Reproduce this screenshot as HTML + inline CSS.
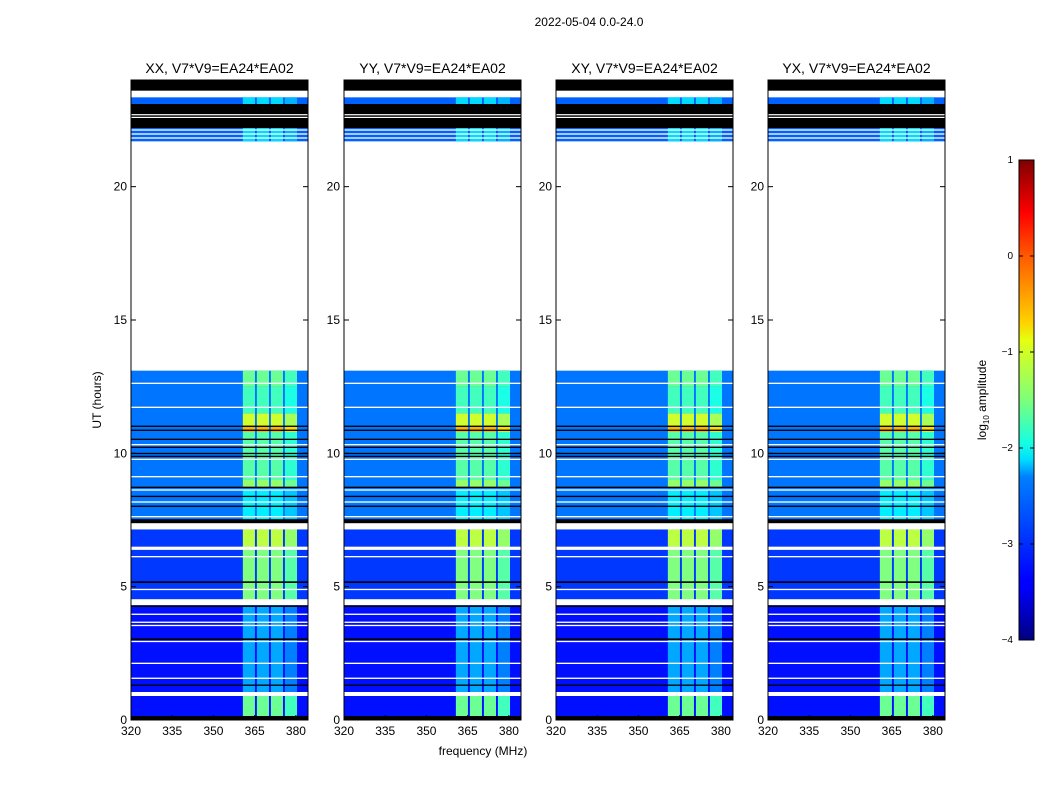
<!DOCTYPE html>
<html><head><meta charset="utf-8"><style>
html,body{margin:0;padding:0;background:#fff;}
svg text{font-family:"Liberation Sans",sans-serif;}
</style></head><body>
<svg id="fig" width="1050" height="800" xmlns="http://www.w3.org/2000/svg">
<defs>
<linearGradient id="jet" x1="0" y1="1" x2="0" y2="0">
<stop offset="0" stop-color="#00007f"/><stop offset="0.11" stop-color="#0000ff"/>
<stop offset="0.125" stop-color="#0000ff"/><stop offset="0.34" stop-color="#0080ff"/>
<stop offset="0.375" stop-color="#00dcff"/><stop offset="0.41" stop-color="#14ffe2"/>
<stop offset="0.5" stop-color="#7dff7a"/><stop offset="0.625" stop-color="#e6ff10"/>
<stop offset="0.66" stop-color="#ffd300"/><stop offset="0.8" stop-color="#ff5a00"/>
<stop offset="0.89" stop-color="#ff0000"/><stop offset="1" stop-color="#7f0000"/>
</linearGradient>
</defs>
<text x="589" y="26" font-size="12" text-anchor="middle">2022-05-04 0.0-24.0</text>
<g id="panels"></g>
<text x="483" y="755" font-size="12" text-anchor="middle">frequency (MHz)</text>
<text transform="translate(101,400) rotate(-90)" font-size="12" text-anchor="middle">UT (hours)</text>
<g>
<rect x="1019" y="160" width="15" height="480" fill="url(#jet)" stroke="#000" stroke-width="1"/>
<g id="cbticks"></g>
<text transform="translate(986,400) rotate(-90)" font-size="12" text-anchor="middle">log<tspan font-size="8" dy="3">10</tspan><tspan dy="-3"> amplitude</tspan></text>
</g>
</svg>
<script>
const panelTitles = ["XX, V7*V9=EA24*EA02","YY, V7*V9=EA24*EA02","XY, V7*V9=EA24*EA02","YX, V7*V9=EA24*EA02"];
const panelLefts = [131,344,556,768];
const xTicks = [320,335,350,365,380];
const yTicks = [0,5,10,15,20];
const cbTicks = [1,0,-1,-2,-3,-4];
// time blocks: [start h, end h, background log amplitude]
const blockStart = [0.15, 4.3, 7.4, 21.7, 23.1];
const blockEnd   = [4.3, 7.15, 13.1, 22.2, 23.35];
const blockBg    = [-3.3, -3.1, -2.8, -2.9, -2.9];
// RFI channels (MHz)
const rfiLo = [360.7, 365.8, 370.9, 376.0];
const rfiHi = [365.1, 370.2, 375.3, 380.4];
// RFI intensity segments
const rfiStart = [0.15, 0.9, 4.5, 6.5, 7.4, 8.7, 9.0, 10.8, 11.0, 11.5, 12.5, 21.7, 23.1];
const rfiEnd   = [0.9, 4.3, 6.5, 7.15, 8.6, 9.05, 10.8, 11.0, 11.5, 12.5, 13.1, 22.2, 23.35];
const rfiVal   = [-1.6, -2.55, -1.5, -1.2, -2.2, -1.4, -1.7, -0.5, -1.1, -1.8, -1.6, -2.3, -2.3];
// flag lines
const lineH = [0.9,1.28,1.54,2.1,2.92,3.0,3.52,3.64,3.94,4.24,4.31,4.87,5.14,6.1,6.38,7.15,7.38,7.6,7.99,8.15,8.36,8.6,8.7,9.1,9.75,9.86,9.97,10.2,10.3,10.5,10.84,10.99,11.7,12.6,21.8,21.95,22.1];
const lineT = [0.15,0.05,0.05,0.05,0.05,0.06,0.05,0.05,0.05,0.06,0.22,0.05,0.06,0.05,0.12,0.05,0.15,0.05,0.05,0.05,0.05,0.05,0.05,0.05,0.05,0.05,0.05,0.05,0.05,0.05,0.05,0.05,0.05,0.05,0.05,0.05,0.05];
const lineC = ["w","k","w","w","w","k","w","w","w","k","w","w","k","w","w","w","k","w","k","w","k","w","k","w","w","k","k","k","w","k","k","k","w","w","w","w","w"];
// black flagged blocks
const flagStart = [0.0, 22.2, 23.6];
const flagEnd   = [0.15, 23.1, 24.0];
const flagWhiteLines = [22.62, 22.72];

const W = 177, TOP = 80, BOT = 720;
const yS = h => BOT - h * (BOT - TOP) / 24;
const F0 = 320, F1 = 384.4;
function jet(v){
  let t = Math.max(0, Math.min(1, (v + 4) / 5));
  const r = Math.max(0, Math.min(1, 1.5 - Math.abs(4*t - 3)));
  const g = Math.max(0, Math.min(1, 1.5 - Math.abs(4*t - 2)));
  const b = Math.max(0, Math.min(1, 1.5 - Math.abs(4*t - 1)));
  return `rgb(${Math.round(r*255)},${Math.round(g*255)},${Math.round(b*255)})`;
}
const NS = "http://www.w3.org/2000/svg";
function mk(tag, attrs, parent){ const e = document.createElementNS(NS, tag); for (const k in attrs) e.setAttribute(k, attrs[k]); parent.appendChild(e); return e; }
const root = document.getElementById("panels");
panelLefts.forEach((L, p) => {
  const xS = f => L + (f - F0) / (F1 - F0) * W;
  const g = mk("g", {}, root);
  
  
  blockStart.forEach((s, i) => {
    const r = mk("rect", {x: L, y: yS(blockEnd[i]), width: W, height: yS(s) - yS(blockEnd[i]), fill: jet(blockBg[i])}, g);
    
    
  });
  rfiStart.forEach((s, i) => {
    rfiLo.forEach((lo, c) => {
      const v = rfiVal[i] + (c === 3 ? -0.2 : 0);
      const r = mk("rect", {x: xS(lo), y: yS(rfiEnd[i]), width: xS(rfiHi[c]) - xS(lo), height: yS(s) - yS(rfiEnd[i]), fill: jet(v)}, g);
      
      
    });
  });
  lineH.forEach((h, i) => {
    const r = mk("rect", {x: L, y: yS(h + lineT[i]), width: W, height: Math.max(1.2, yS(h) - yS(h + lineT[i])), fill: lineC[i] === "w" ? "#fff" : "#000"}, g);
    
    
  });
  flagStart.forEach((s, i) => {
    const r = mk("rect", {x: L, y: yS(flagEnd[i]), width: W, height: yS(s) - yS(flagEnd[i]), fill: "#000"}, g);
    
    
  });
  flagWhiteLines.forEach(h => { mk("rect", {x: L, y: yS(h), width: W, height: 1.2, fill: "#fff"}, g); });
  const fr = mk("rect", {x: L, y: TOP, width: W, height: BOT - TOP, fill: "none", stroke: "#000", "stroke-width": 1}, g);
  
  
  const t = mk("text", {x: L + W/2, y: 73, "font-size": 14, "text-anchor": "middle"}, g);
  t.textContent = panelTitles[p];
  
  
  xTicks.forEach(f => {
    mk("line", {x1: xS(f), x2: xS(f), y1: BOT, y2: BOT - 5, stroke: "#000"}, g);
    mk("line", {x1: xS(f), x2: xS(f), y1: TOP, y2: TOP + 5, stroke: "#000"}, g);
    const tx = mk("text", {x: xS(f), y: BOT + 15, "font-size": 12, "text-anchor": "middle"}, g);
    tx.textContent = f;
    
    
  });
  yTicks.forEach(h => {
    mk("line", {x1: L, x2: L + 5, y1: yS(h), y2: yS(h), stroke: "#000"}, g);
    mk("line", {x1: L + W - 5, x2: L + W, y1: yS(h), y2: yS(h), stroke: "#000"}, g);
    const ty = mk("text", {x: L - 4, y: yS(h) + 4, "font-size": 12, "text-anchor": "end"}, g);
    ty.textContent = h;
    
    
  });
});
const cb = document.getElementById("cbticks");
cbTicks.forEach(v => {
  const y = 640 - (v + 4) / 5 * 480;
  mk("line", {x1: 1019, x2: 1023, y1: y, y2: y, stroke: "#000"}, cb);
  mk("line", {x1: 1030, x2: 1034, y1: y, y2: y, stroke: "#000"}, cb);
  const t = mk("text", {x: 1013, y: y + 3, "font-size": 10, "text-anchor": "end"}, cb);
  t.textContent = v < 0 ? "\u2212" + (-v) : String(v);
  
  
});
</script>
</body></html>
